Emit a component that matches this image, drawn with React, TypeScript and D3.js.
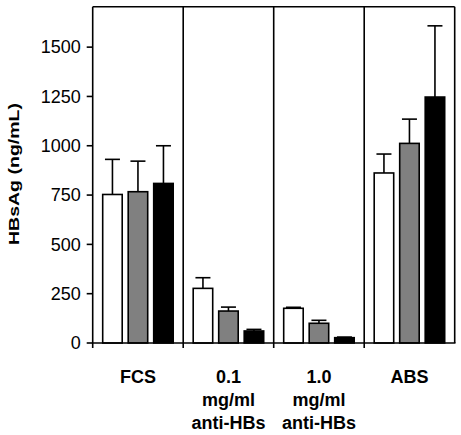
import React from "react";
import * as d3 from "d3";

const categories = ["FCS", "0.1 mg/ml anti-HBs", "1.0 mg/ml anti-HBs", "ABS"];
const categoryLines = [["FCS"], ["0.1", "mg/ml", "anti-HBs"], ["1.0", "mg/ml", "anti-HBs"], ["ABS"]];
const seriesNames = ["s1", "s2", "s3"];
const seriesFills = ["#ffffff", "#808080", "#000000"];
const means = [
  [753, 767, 809],
  [277, 162, 61],
  [176, 100, 27],
  [862, 1012, 1247],
];
const errUpper = [
  [931, 922, 1000],
  [331, 182, 69],
  [181, 115, 30],
  [958, 1135, 1608],
];
const yTicks = [0, 250, 500, 750, 1000, 1250, 1500];

export default function App() {
  const W = 461, H = 435;
  const left = 92.7, right = 454.7, top = 6.7, bottom = 343;
  const x = d3.scaleBand<string>().domain(categories).range([left, right]).padding(0);
  const inner = d3.scaleBand<string>().domain(seriesNames).range([0, x.bandwidth()]).paddingInner(0.235).paddingOuter(0.392);
  const y = d3.scaleLinear().domain([0, 1705]).range([bottom, top]);
  const font = "'Liberation Sans', Arial, sans-serif";
  const sw = 1.6;
  const capW = 7.5;

  return (
    <div style={{ position: "absolute", left: 0, top: 0 }}>
      <svg width={W} height={H} style={{ display: "block", background: "#fff" }}>
        {categories.map((c, ci) =>
          seriesNames.map((s, si) => {
            const bx = (x(c) as number) + (inner(s) as number);
            const bw = inner.bandwidth();
            const cx = bx + bw / 2;
            return (
              <g key={c + s}>
                <line x1={cx} x2={cx} y1={y(means[ci][si])} y2={y(errUpper[ci][si])} stroke="#000" strokeWidth={sw} />
                <line x1={cx - capW} x2={cx + capW} y1={y(errUpper[ci][si])} y2={y(errUpper[ci][si])} stroke="#000" strokeWidth={sw} />
                <rect x={bx} y={y(means[ci][si])} width={bw} height={bottom - y(means[ci][si])} fill={seriesFills[si]} stroke="#000" strokeWidth={sw} />
              </g>
            );
          })
        )}
        <line x1={left} x2={right} y1={top} y2={top} stroke="#000" strokeWidth={sw} />
        <line x1={left} x2={right + 0.8} y1={bottom} y2={bottom} stroke="#000" strokeWidth={sw} />
        <line x1={left} x2={left} y1={top} y2={bottom + 5} stroke="#000" strokeWidth={sw} />
        <line x1={right} x2={right} y1={top} y2={bottom} stroke="#000" strokeWidth={sw} />
        {categories.slice(1).map((c) => (
          <line key={c} x1={x(c) as number} x2={x(c) as number} y1={top} y2={bottom + 5} stroke="#000" strokeWidth={sw} />
        ))}
        {yTicks.map((t) => (
          <g key={t}>
            <line x1={left - 6} x2={left} y1={y(t)} y2={y(t)} stroke="#000" strokeWidth={sw} />
            <text x={left - 12} y={y(t)} dy="0.35em" textAnchor="end" fontFamily={font} fontSize={18} fill="#000">
              {t}
            </text>
          </g>
        ))}
        <text
          transform={`translate(19,174) rotate(-90)`}
          textAnchor="middle"
          fontFamily={font}
          fontSize={14}
          fontWeight="bold"
          textLength={142}
          lengthAdjust="spacingAndGlyphs"
          fill="#000"
        >
          HBsAg (ng/mL)
        </text>
        {categories.map((c, ci) => (
          <text key={c} x={(x(c) as number) + x.bandwidth() / 2} y={383} textAnchor="middle" fontFamily={font} fontSize={18} fontWeight="bold" fill="#000">
            {categoryLines[ci].map((ln, li) => (
              <tspan key={li} x={(x(c) as number) + x.bandwidth() / 2} dy={li === 0 ? 0 : 23}>
                {ln}
              </tspan>
            ))}
          </text>
        ))}
      </svg>
    </div>
  );
}
